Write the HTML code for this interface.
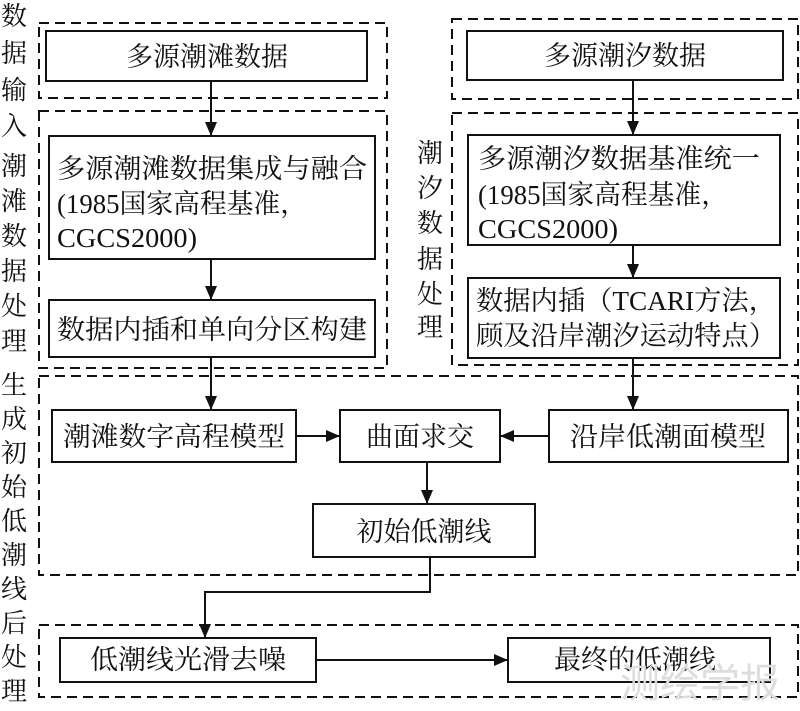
<!DOCTYPE html>
<html><head><meta charset="utf-8"><style>
html,body{margin:0;padding:0;background:#fff}
svg{display:block}
text{font-family:"Liberation Serif","Noto Serif CJK SC",serif;font-size:27px;fill:#111}
.l{font-size:26px}
</style></head><body>
<svg width="800" height="711" viewBox="0 0 800 711" xmlns="http://www.w3.org/2000/svg">
<defs>
<marker id="b" markerWidth="14" markerHeight="20" refX="14" refY="6" orient="auto" markerUnits="userSpaceOnUse"><path d="M0,0 L14,6 L0,12 Z" fill="#111"/></marker></defs>
<g fill="none" stroke="#111" stroke-width="2" stroke-dasharray="10,6">
<rect x="39" y="23" width="348" height="75"/>
<rect x="39" y="111" width="348" height="257"/>
<rect x="452" y="19" width="346" height="80"/>
<rect x="452" y="113" width="346" height="252"/>
<rect x="39" y="376" width="759" height="199"/>
<rect x="39" y="625" width="759" height="72"/>
</g>
<g fill="#fff" stroke="#111" stroke-width="2">
<rect x="46" y="31" width="321" height="50"/>
<rect x="49" y="136" width="326" height="123"/>
<rect x="49" y="300" width="326" height="57"/>
<rect x="467" y="31" width="316" height="49"/>
<rect x="468" y="135" width="312" height="110"/>
<rect x="468" y="278" width="312" height="80"/>
<rect x="52" y="410" width="244" height="52"/>
<rect x="340" y="410" width="160" height="52"/>
<rect x="549" y="410" width="239" height="52"/>
<rect x="313" y="504" width="222" height="53"/>
<rect x="60" y="638" width="256" height="44"/>
<rect x="508" y="638" width="262" height="44"/>
</g>
<g stroke="#111" stroke-width="2" fill="none" marker-end="url(#b)">
<line x1="211" y1="81" x2="211" y2="136"/>
<line x1="211" y1="259" x2="211" y2="300"/>
<line x1="633" y1="80" x2="633" y2="135"/>
<line x1="633" y1="245" x2="633" y2="278"/>
<line x1="211" y1="357" x2="211" y2="410"/>
<line x1="633" y1="358" x2="633" y2="410"/>
<line x1="296" y1="436" x2="340" y2="436"/>
<line x1="549" y1="436" x2="500" y2="436"/>
<line x1="427" y1="462" x2="427" y2="504"/>
<polyline points="430,557 430,592 205,592 205,638"/>
<line x1="316" y1="660" x2="508" y2="660"/>
</g>
<g text-anchor="middle">
<text x="207" y="66">多源潮滩数据</text>
<text x="625" y="65">多源潮汐数据</text>
<text x="174" y="446" textLength="222" lengthAdjust="spacingAndGlyphs">潮滩数字高程模型</text>
<text x="420" y="446">曲面求交</text>
<text x="668" y="446" textLength="196" lengthAdjust="spacingAndGlyphs">沿岸低潮面模型</text>
<text x="424" y="541">初始低潮线</text>
<text x="188" y="669" textLength="196" lengthAdjust="spacingAndGlyphs">低潮线光滑去噪</text>
<text x="635" y="669">最终的低潮线</text>
</g>
<text x="57" y="178" textLength="310" lengthAdjust="spacingAndGlyphs">多源潮滩数据集成与融合</text>
<text x="57" y="213" textLength="250" lengthAdjust="spacingAndGlyphs">(1985国家高程基准，</text>
<text x="57" y="247" textLength="140" lengthAdjust="spacingAndGlyphs">CGCS2000)</text>
<text x="57" y="339" textLength="310" lengthAdjust="spacingAndGlyphs">数据内插和单向分区构建</text>
<text x="478" y="168" textLength="282" lengthAdjust="spacingAndGlyphs">多源潮汐数据基准统一</text>
<text x="478" y="204" textLength="250" lengthAdjust="spacingAndGlyphs">(1985国家高程基准，</text>
<text x="478" y="238" textLength="140" lengthAdjust="spacingAndGlyphs">CGCS2000)</text>
<text x="476" y="310" textLength="300" lengthAdjust="spacingAndGlyphs">数据内插（TCARI方法，</text>
<text x="476" y="345" textLength="300" lengthAdjust="spacingAndGlyphs">顾及沿岸潮汐运动特点）</text>
<g text-anchor="middle">
<text class="l" x="14" y="25">数</text><text class="l" x="14" y="62">据</text><text class="l" x="14" y="99">输</text><text class="l" x="14" y="135">入</text>
<text class="l" x="14" y="175">潮</text><text class="l" x="14" y="210">滩</text><text class="l" x="14" y="245">数</text><text class="l" x="14" y="280">据</text><text class="l" x="14" y="315">处</text><text class="l" x="14" y="350">理</text>
<text class="l" x="430" y="162">潮</text><text class="l" x="430" y="197">汐</text><text class="l" x="430" y="232">数</text><text class="l" x="430" y="268">据</text><text class="l" x="430" y="303">处</text><text class="l" x="430" y="336">理</text>
<text class="l" x="14" y="394">生</text><text class="l" x="14" y="428">成</text><text class="l" x="14" y="462">初</text><text class="l" x="14" y="496">始</text><text class="l" x="14" y="530">低</text><text class="l" x="14" y="564">潮</text><text class="l" x="14" y="598">线</text><text class="l" x="14" y="632">后</text><text class="l" x="14" y="666">处</text><text class="l" x="14" y="700">理</text>
</g>
<text x="620" y="697" style="font-size:40px;fill:#ddd;font-family:'Liberation Sans','Noto Sans CJK SC',sans-serif">测绘学报</text>
</svg>
</body></html>
